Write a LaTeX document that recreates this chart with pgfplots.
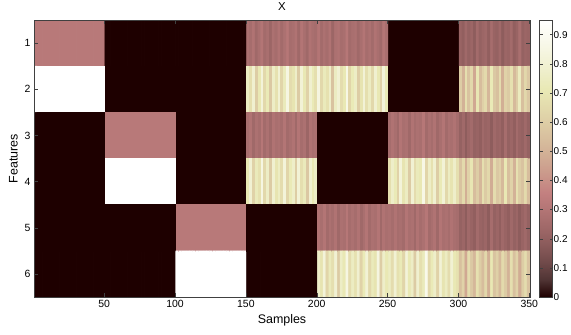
\documentclass[border=0pt]{standalone}
\usepackage{fontspec}
\setmainfont{Liberation Sans}
\usepackage{pgfplots}
\usepackage{pgfplotstable}
\pgfplotsset{compat=1.18}
\pgfplotstableread[header=false, row sep=\\]{
0.32\\0.32\\0.32\\0.32\\0.32\\0.32\\0.32\\0.32\\0.32\\0.32\\0.32\\0.32\\0.32\\0.32\\0.32\\0.32\\0.32\\0.32\\0.32\\0.32\\0.32\\0.32\\0.32\\0.32\\0.32\\
0\\0\\0\\0\\0\\0\\0\\0\\0\\0\\0\\0\\0\\0\\0\\0\\0\\0\\0\\0\\0\\0\\0\\0\\0\\
0\\0\\0\\0\\0\\0\\0\\0\\0\\0\\0\\0\\0\\0\\0\\0\\0\\0\\0\\0\\0\\0\\0\\0\\0\\
0.28\\0.26\\0.29\\0.24\\0.27\\0.30\\0.25\\0.27\\0.23\\0.28\\0.26\\0.29\\0.25\\0.28\\0.31\\0.26\\0.27\\0.29\\0.24\\0.30\\0.27\\0.24\\0.29\\0.27\\0.26\\
0.30\\0.25\\0.28\\0.26\\0.29\\0.23\\0.28\\0.29\\0.26\\0.27\\0.31\\0.25\\0.27\\0.28\\0.24\\0.27\\0.30\\0.26\\0.28\\0.25\\0.29\\0.27\\0.24\\0.30\\0.27\\
0\\0\\0\\0\\0\\0\\0\\0\\0\\0\\0\\0\\0\\0\\0\\0\\0\\0\\0\\0\\0\\0\\0\\0\\0\\
0.22\\0.20\\0.24\\0.21\\0.23\\0.19\\0.25\\0.21\\0.23\\0.24\\0.20\\0.26\\0.22\\0.21\\0.24\\0.19\\0.23\\0.22\\0.25\\0.20\\0.22\\0.27\\0.21\\0.23\\0.22\\
0.95\\0.95\\0.95\\0.95\\0.95\\0.95\\0.95\\0.95\\0.95\\0.95\\0.95\\0.95\\0.95\\0.95\\0.95\\0.95\\0.95\\0.95\\0.95\\0.95\\0.95\\0.95\\0.95\\0.95\\0.95\\
0\\0\\0\\0\\0\\0\\0\\0\\0\\0\\0\\0\\0\\0\\0\\0\\0\\0\\0\\0\\0\\0\\0\\0\\0\\
0\\0\\0\\0\\0\\0\\0\\0\\0\\0\\0\\0\\0\\0\\0\\0\\0\\0\\0\\0\\0\\0\\0\\0\\0\\
0.75\\0.67\\0.79\\0.60\\0.71\\0.82\\0.64\\0.72\\0.58\\0.76\\0.68\\0.80\\0.63\\0.73\\0.85\\0.66\\0.69\\0.77\\0.59\\0.81\\0.71\\0.62\\0.79\\0.72\\0.67\\
0.84\\0.64\\0.73\\0.68\\0.77\\0.56\\0.75\\0.80\\0.66\\0.71\\0.86\\0.63\\0.72\\0.76\\0.60\\0.69\\0.81\\0.67\\0.75\\0.64\\0.79\\0.71\\0.62\\0.82\\0.72\\
0\\0\\0\\0\\0\\0\\0\\0\\0\\0\\0\\0\\0\\0\\0\\0\\0\\0\\0\\0\\0\\0\\0\\0\\0\\
0.60\\0.50\\0.67\\0.56\\0.64\\0.47\\0.70\\0.54\\0.61\\0.65\\0.52\\0.72\\0.58\\0.55\\0.66\\0.49\\0.62\\0.59\\0.68\\0.53\\0.60\\0.74\\0.55\\0.64\\0.58\\
0\\0\\0\\0\\0\\0\\0\\0\\0\\0\\0\\0\\0\\0\\0\\0\\0\\0\\0\\0\\0\\0\\0\\0\\0\\
0.32\\0.32\\0.32\\0.32\\0.32\\0.32\\0.32\\0.32\\0.32\\0.32\\0.32\\0.32\\0.32\\0.32\\0.32\\0.32\\0.32\\0.32\\0.32\\0.32\\0.32\\0.32\\0.32\\0.32\\0.32\\
0\\0\\0\\0\\0\\0\\0\\0\\0\\0\\0\\0\\0\\0\\0\\0\\0\\0\\0\\0\\0\\0\\0\\0\\0\\
0.27\\0.29\\0.24\\0.28\\0.26\\0.31\\0.25\\0.28\\0.24\\0.29\\0.27\\0.28\\0.26\\0.30\\0.25\\0.27\\0.29\\0.24\\0.30\\0.26\\0.28\\0.23\\0.29\\0.27\\0.28\\
0\\0\\0\\0\\0\\0\\0\\0\\0\\0\\0\\0\\0\\0\\0\\0\\0\\0\\0\\0\\0\\0\\0\\0\\0\\
0.26\\0.29\\0.27\\0.24\\0.30\\0.27\\0.28\\0.24\\0.29\\0.26\\0.28\\0.27\\0.31\\0.25\\0.28\\0.26\\0.29\\0.24\\0.27\\0.30\\0.25\\0.28\\0.27\\0.29\\0.26\\
0.21\\0.24\\0.19\\0.23\\0.25\\0.21\\0.22\\0.20\\0.24\\0.22\\0.23\\0.19\\0.24\\0.22\\0.23\\0.20\\0.26\\0.21\\0.23\\0.20\\0.25\\0.22\\0.21\\0.24\\0.21\\
0\\0\\0\\0\\0\\0\\0\\0\\0\\0\\0\\0\\0\\0\\0\\0\\0\\0\\0\\0\\0\\0\\0\\0\\0\\
0.95\\0.95\\0.95\\0.95\\0.95\\0.95\\0.95\\0.95\\0.95\\0.95\\0.95\\0.95\\0.95\\0.95\\0.95\\0.95\\0.95\\0.95\\0.95\\0.95\\0.95\\0.95\\0.95\\0.95\\0.95\\
0\\0\\0\\0\\0\\0\\0\\0\\0\\0\\0\\0\\0\\0\\0\\0\\0\\0\\0\\0\\0\\0\\0\\0\\0\\
0.71\\0.80\\0.62\\0.73\\0.68\\0.85\\0.64\\0.76\\0.59\\0.79\\0.69\\0.75\\0.66\\0.82\\0.63\\0.72\\0.77\\0.60\\0.81\\0.67\\0.73\\0.58\\0.79\\0.71\\0.76\\
0\\0\\0\\0\\0\\0\\0\\0\\0\\0\\0\\0\\0\\0\\0\\0\\0\\0\\0\\0\\0\\0\\0\\0\\0\\
0.67\\0.77\\0.72\\0.62\\0.82\\0.69\\0.75\\0.59\\0.80\\0.66\\0.73\\0.71\\0.86\\0.63\\0.76\\0.68\\0.79\\0.60\\0.72\\0.81\\0.64\\0.75\\0.69\\0.77\\0.67\\
0.56\\0.65\\0.49\\0.62\\0.70\\0.54\\0.60\\0.52\\0.67\\0.59\\0.64\\0.48\\0.66\\0.58\\0.61\\0.53\\0.71\\0.55\\0.62\\0.50\\0.68\\0.60\\0.56\\0.65\\0.54\\
0\\0\\0\\0\\0\\0\\0\\0\\0\\0\\0\\0\\0\\0\\0\\0\\0\\0\\0\\0\\0\\0\\0\\0\\0\\
0\\0\\0\\0\\0\\0\\0\\0\\0\\0\\0\\0\\0\\0\\0\\0\\0\\0\\0\\0\\0\\0\\0\\0\\0\\
0.32\\0.32\\0.32\\0.32\\0.32\\0.32\\0.32\\0.32\\0.32\\0.32\\0.32\\0.32\\0.32\\0.32\\0.32\\0.32\\0.32\\0.32\\0.32\\0.32\\0.32\\0.32\\0.32\\0.32\\0.32\\
0\\0\\0\\0\\0\\0\\0\\0\\0\\0\\0\\0\\0\\0\\0\\0\\0\\0\\0\\0\\0\\0\\0\\0\\0\\
0.29\\0.27\\0.30\\0.25\\0.28\\0.26\\0.29\\0.24\\0.28\\0.27\\0.31\\0.26\\0.28\\0.26\\0.29\\0.24\\0.27\\0.30\\0.25\\0.28\\0.27\\0.30\\0.24\\0.29\\0.27\\
0.28\\0.26\\0.29\\0.26\\0.27\\0.25\\0.30\\0.27\\0.28\\0.24\\0.29\\0.26\\0.28\\0.31\\0.25\\0.27\\0.29\\0.24\\0.30\\0.27\\0.28\\0.26\\0.29\\0.27\\0.26\\
0.21\\0.23\\0.19\\0.24\\0.22\\0.20\\0.25\\0.22\\0.21\\0.23\\0.19\\0.26\\0.21\\0.23\\0.20\\0.24\\0.22\\0.20\\0.24\\0.21\\0.23\\0.19\\0.22\\0.24\\0.21\\
0\\0\\0\\0\\0\\0\\0\\0\\0\\0\\0\\0\\0\\0\\0\\0\\0\\0\\0\\0\\0\\0\\0\\0\\0\\
0\\0\\0\\0\\0\\0\\0\\0\\0\\0\\0\\0\\0\\0\\0\\0\\0\\0\\0\\0\\0\\0\\0\\0\\0\\
0.95\\0.95\\0.95\\0.95\\0.95\\0.95\\0.95\\0.95\\0.95\\0.95\\0.95\\0.95\\0.95\\0.95\\0.95\\0.95\\0.95\\0.95\\0.95\\0.95\\0.95\\0.95\\0.95\\0.95\\0.95\\
0\\0\\0\\0\\0\\0\\0\\0\\0\\0\\0\\0\\0\\0\\0\\0\\0\\0\\0\\0\\0\\0\\0\\0\\0\\
0.77\\0.69\\0.82\\0.63\\0.73\\0.67\\0.80\\0.59\\0.76\\0.71\\0.85\\0.66\\0.75\\0.68\\0.79\\0.62\\0.72\\0.81\\0.64\\0.73\\0.69\\0.84\\0.60\\0.77\\0.71\\
0.75\\0.66\\0.80\\0.68\\0.72\\0.63\\0.82\\0.71\\0.76\\0.59\\0.79\\0.67\\0.73\\0.88\\0.64\\0.72\\0.77\\0.62\\0.81\\0.69\\0.75\\0.66\\0.80\\0.71\\0.68\\
0.55\\0.62\\0.47\\0.66\\0.58\\0.52\\0.68\\0.60\\0.54\\0.64\\0.49\\0.71\\0.56\\0.61\\0.53\\0.65\\0.59\\0.50\\0.67\\0.55\\0.62\\0.48\\0.60\\0.66\\0.56\\
}\featX
\begin{document}
\begin{tikzpicture}
\begin{axis}[
  scale only axis, width=496bp, height=277bp,
  xmin=0.5, xmax=350.5, ymin=0.5, ymax=6.5, y dir=reverse,
  xtick={50,100,150,200,250,300,350}, ytick={1,2,3,4,5,6},
  tick align=inside, major tick length=4bp,
  axis line style={black!75}, tick style={black!75},
  /pgf/number format/assume math mode=true,
  ticklabel style={font=\fontsize{10.5}{12}\selectfont},
  xlabel={Samples}, ylabel={Features}, title={X},
  label style={font=\fontsize{12.5}{14}\selectfont},
  title style={font=\fontsize{11.5}{13}\selectfont},
  colormap={matpink}{rgb=(0.118,0,0) rgb=(0.312,0.204,0.204) rgb=(0.441,0.289,0.289) rgb=(0.540,0.354,0.354) rgb=(0.624,0.408,0.408) rgb=(0.697,0.456,0.456) rgb=(0.764,0.5,0.5) rgb=(0.791,0.589,0.540) rgb=(0.816,0.667,0.577) rgb=(0.842,0.736,0.612) rgb=(0.866,0.799,0.645) rgb=(0.890,0.858,0.677) rgb=(0.913,0.913,0.707) rgb=(0.935,0.935,0.791) rgb=(0.957,0.957,0.866) rgb=(0.979,0.979,0.935) rgb=(1,1,1)},
  point meta min=0, point meta max=0.95,
  colorbar,
  colorbar style={
    width=13bp,
    at={(parent axis.north east)}, anchor=north west, xshift=1bp,
    ytick={0,0.1,0.2,0.3,0.4,0.5,0.6,0.7,0.8,0.9},
    /pgf/number format/assume math mode=true,
    yticklabel style={font=\fontsize{10}{12}\selectfont, inner sep=1bp, /pgf/number format/fixed, /pgf/number format/precision=1},
    tick align=inside, major tick length=3bp,
    axis line style={black!75}, tick style={black!75},
  },
  axis on top,
]
\addplot[matrix plot*, mesh/cols=175, point meta=explicit] table[x index=0, y index=0, meta index=0,
  x expr={2*(\coordindex-175*floor((\coordindex+0.5)/175))+1.5},
  y expr={floor((\coordindex+0.5)/175)+1}] {\featX};
\addplot[matrix plot*, mesh/cols=175, point meta=explicit] table[x index=0, y index=0, meta index=0,
  x expr={2*(\coordindex-175*floor((\coordindex+0.5)/175))+1.5},
  y expr={floor((\coordindex+0.5)/175)+1}] {\featX};
\addplot[matrix plot*, mesh/cols=175, point meta=explicit] table[x index=0, y index=0, meta index=0,
  x expr={2*(\coordindex-175*floor((\coordindex+0.5)/175))+1.5},
  y expr={floor((\coordindex+0.5)/175)+1}] {\featX};
\end{axis}
\pgfresetboundingbox
\path (-34bp,-38bp) rectangle (537bp,297bp);
\end{tikzpicture}
\end{document}
